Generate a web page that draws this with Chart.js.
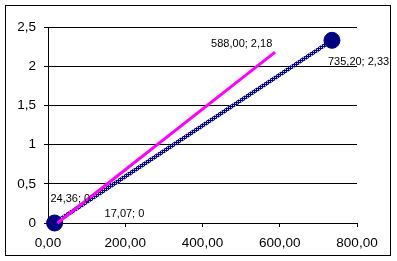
<!DOCTYPE html>
<html>
<head>
<meta charset="utf-8">
<script src="https://cdn.jsdelivr.net/npm/chart.js@4/dist/chart.umd.min.js"></script>
<style>
html,body{margin:0;padding:0;background:#fff;}
canvas{display:block;}
</style>
</head>
<body>
<canvas id="c" width="397" height="261"></canvas>
<script>
// ---- data ----
const navyX = [17.07, 735.20];
const navyY = [0, 2.33];
const magentaX = [24.36, 588.00];
const magentaY = [0, 2.18];
const xTickLabels = ["0,00", "200,00", "400,00", "600,00", "800,00"];
const yTickLabels = ["0", "0,5", "1", "1,5", "2", "2,5"];

const toPts = (xs, ys) => xs.map((x, i) => ({x: x, y: ys[i]}));
const fmt = (v, d) => v.toFixed(d).replace('.', ',');
const labelText = (x, y) => fmt(x, 2) + '; ' + (y === 0 ? '0' : fmt(y, 2));

// navy textured stroke
const pc = document.createElement('canvas');
pc.width = 2; pc.height = 2;
const pctx = pc.getContext('2d');
pctx.fillStyle = '#000080'; pctx.fillRect(0, 0, 2, 2);
pctx.fillStyle = '#c8c8f0'; pctx.fillRect(1, 1, 1, 1);
const ctx = document.getElementById('c').getContext('2d');
const navyPattern = ctx.createPattern(pc, 'repeat');

// label offsets (pixels) relative to the point: [dataset, index, dx, dy]
const labelPlaces = [
  [0, 1, -64, -5],
  [1, 1, -4, 25],
  [0, 0, -7, -21],
  [1, 0, 50, -6]
];

const framePlugin = {
  id: 'frame',
  beforeDraw(chart) {
    const c = chart.ctx;
    c.save();
    c.fillStyle = '#fff';
    c.fillRect(0, 0, chart.width, chart.height);
    c.restore();
  },
  afterDraw(chart) {
    const c = chart.ctx;
    c.save();
    c.strokeStyle = '#000';
    c.lineWidth = 1;
    c.strokeRect(5.5, 5.5, 385, 250);
    c.fillStyle = '#000';
    c.font = '11px "Liberation Sans", Arial, sans-serif';
    c.textBaseline = 'alphabetic';
    c.textAlign = 'left';
    labelPlaces.forEach(([ds, i, dx, dy]) => {
      const el = chart.getDatasetMeta(ds).data[i];
      const d = chart.data.datasets[ds].data[i];
      c.fillText(labelText(d.x, d.y), el.x + dx, el.y + dy);
    });
    c.restore();
  }
};

new Chart(ctx, {
  type: 'scatter',
  data: {
    datasets: [
      {
        data: toPts(magentaX, magentaY),
        showLine: true,
        clip: false,
        borderColor: '#ff00ff',
        borderWidth: 3,
        pointRadius: 0,
        pointHoverRadius: 0
      },
      {
        data: toPts(navyX, navyY),
        showLine: true,
        clip: false,
        borderColor: navyPattern,
        borderWidth: 4,
        pointRadius: 8,
        pointBackgroundColor: '#000080',
        pointBorderColor: '#000080',
        pointBorderWidth: 1
      }
    ]
  },
  options: {
    responsive: false,
    animation: false,
    events: [],
    layout: {padding: {left: 0, right: 40, top: 27, bottom: 0}},
    plugins: {legend: {display: false}, tooltip: {enabled: false}},
    scales: {
      x: {
        type: 'linear',
        min: 0, max: 800,
        ticks: {
          stepSize: 200,
          color: '#000',
          padding: 8,
          maxRotation: 0,
          font: {family: '"Liberation Sans", Arial, sans-serif', size: 13.5},
          callback: (v, i) => xTickLabels[i]
        },
        grid: {drawOnChartArea: false, drawTicks: true, tickLength: 4, color: '#000', lineWidth: 1},
        border: {display: true, color: '#000', width: 1},
        afterFit(s) { s.height = 38; }
      },
      y: {
        type: 'linear',
        min: 0, max: 2.5,
        ticks: {
          stepSize: 0.5,
          color: '#000',
          padding: 8,
          font: {family: '"Liberation Sans", Arial, sans-serif', size: 13.5},
          callback: (v, i) => yTickLabels[i]
        },
        grid: {drawOnChartArea: true, drawTicks: true, tickLength: 4, color: '#000', lineWidth: 1},
        border: {display: true, color: '#000', width: 1},
        afterFit(s) { s.width = 48; }
      }
    }
  },
  plugins: [framePlugin]
});
</script>
</body>
</html>
